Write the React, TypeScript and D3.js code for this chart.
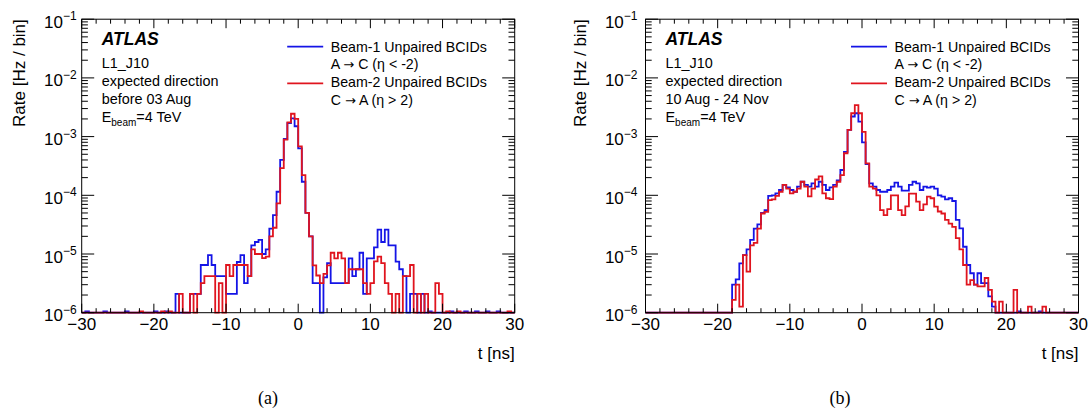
import React from 'react';
import * as d3 from 'd3';

// ---------- data (bins of 0.5 ns from -30 to 30 ns; rate in Hz / bin, 0 = empty bin) ----------
const T_MIN = -30;
const T_MAX = 30;
const BIN_W = 0.5;
const binEdges = d3.range(0, 121).map((i) => T_MIN + i * BIN_W);

// (a) before 03 Aug
const aBeam1 = [
  0, 1.05e-6, 0, 0, 0, 0, 1.05e-6, 0, 0, 0,
  0, 0, 1.05e-6, 0, 0, 0, 0, 0, 0, 0,
  1.05e-6, 0, 0, 1.05e-6, 0, 0, 2.1e-6, 0, 0, 0,
  2.1e-6, 2.1e-6, 2.1e-6, 6.5e-6, 6.5e-6, 9.6e-6, 6.5e-6, 4.2e-6, 4.2e-6, 4.2e-6,
  2.1e-6, 2.1e-6, 2.1e-6, 7.3e-6, 9.6e-6, 3.2e-6, 4.2e-6, 1.4e-5, 1.6e-5, 1.74e-5,
  1.0e-5, 1.2e-5, 2.7e-5, 4.6e-5, 1.15e-4, 4.0e-4, 9.1e-4, 1.7e-3, 2.05e-3, 1.5e-3,
  6.3e-4, 1.7e-4, 5.0e-5, 2.0e-5, 3.2e-6, 3.2e-6, 0, 4.0e-6, 7.0e-6, 3.2e-6,
  3.2e-6, 3.2e-6, 3.2e-6, 3.2e-6, 8.4e-6, 4.2e-6, 5.5e-6, 1.05e-5, 2.1e-6, 8.4e-6,
  8.4e-6, 1.3e-5, 2.6e-5, 1.6e-5, 2.6e-5, 1.4e-5, 1.4e-5, 7.4e-6, 5.5e-6, 4.2e-6,
  0, 2.1e-6, 2.1e-6, 0, 2.1e-6, 0, 1.05e-6, 0, 0, 0,
  0, 0, 1.05e-6, 0, 0, 0, 1.05e-6, 0, 0, 1.05e-6,
  0, 0, 1.05e-6, 0, 0, 1.05e-6, 0, 0, 0, 0,
];
const aBeam2 = [
  0, 0, 0, 0, 0, 0, 0, 0, 0, 0,
  0, 0, 0, 0, 0, 0, 1.05e-6, 0, 0, 0,
  0, 0, 1.05e-6, 0, 1.05e-6, 0, 0, 2.1e-6, 0, 0,
  2.1e-6, 0, 2.1e-6, 3.2e-6, 4.2e-6, 4.2e-6, 4.2e-6, 0, 3.2e-6, 0,
  6.5e-6, 4.2e-6, 6.5e-6, 6.5e-6, 6.5e-6, 6.5e-6, 4.2e-6, 1.2e-5, 1.0e-5, 1.0e-5,
  8.5e-6, 9.0e-6, 2.0e-5, 2.8e-5, 7.3e-5, 2.9e-4, 8.9e-4, 1.75e-3, 2.45e-3, 2.0e-3,
  6.8e-4, 2.2e-4, 5.0e-5, 2.0e-5, 6.4e-6, 4.3e-6, 3.2e-6, 4.6e-6, 6.4e-6, 1.05e-5,
  8.4e-6, 1.05e-5, 8.4e-6, 3.2e-6, 5.5e-6, 5.5e-6, 5.5e-6, 5.5e-6, 3.2e-6, 2.1e-6,
  3.2e-6, 7.5e-6, 9.0e-6, 7.0e-6, 3.2e-6, 2.1e-6, 0, 2.1e-6, 0, 4.2e-6,
  4.2e-6, 6.5e-6, 0, 2.1e-6, 0, 2.1e-6, 0, 0, 3.2e-6, 2.1e-6,
  0, 1.05e-6, 0, 0, 1.05e-6, 0, 0, 0, 0, 0,
  0, 0, 0, 0, 0, 0, 0, 0, 1.05e-6, 0,
];

// (b) 10 Aug - 24 Nov
const bBeam1 = [
  0, 0, 0, 0, 0, 0, 0, 0, 0, 0,
  0, 0, 0, 0, 0, 0, 0, 0, 0, 0,
  0, 0, 0, 0, 3.0e-6, 3.7e-6, 6.9e-6, 9.6e-6, 1.2e-5, 1.74e-5,
  2.7e-5, 3.2e-5, 5.0e-5, 5.6e-5, 9.8e-5, 1.0e-4, 1.08e-4, 1.23e-4, 1.5e-4, 1.37e-4,
  1.23e-4, 1.15e-4, 1.4e-4, 1.7e-4, 1.5e-4, 1.4e-4, 1.6e-4, 1.4e-4, 1.7e-4, 1.5e-4,
  1.23e-4, 1.37e-4, 1.5e-4, 1.8e-4, 2.7e-4, 5.5e-4, 1.3e-3, 2.2e-3, 2.5e-3, 1.8e-3,
  8.0e-4, 3.4e-4, 1.6e-4, 1.4e-4, 1.23e-4, 1.15e-4, 1.15e-4, 1.23e-4, 1.4e-4, 1.65e-4,
  1.4e-4, 1.2e-4, 1.2e-4, 1.5e-4, 1.7e-4, 1.6e-4, 1.23e-4, 1.4e-4, 1.35e-4, 1.4e-4,
  1.3e-4, 1.0e-4, 9.5e-5, 8.5e-5, 8.9e-5, 8.0e-5, 3.8e-5, 2.74e-5, 1.33e-5, 6.5e-6,
  4.7e-6, 3.0e-6, 4.7e-6, 3.2e-6, 3.2e-6, 1.9e-6, 1.27e-6, 0, 0, 0,
  0, 0, 0, 1.05e-6, 0, 0, 0, 0, 0, 1.05e-6,
  0, 0, 0, 0, 0, 0, 0, 0, 0, 0,
];
const bBeam2 = [
  0, 0, 0, 0, 0, 0, 0, 0, 0, 0,
  0, 0, 0, 0, 0, 0, 0, 0, 0, 0,
  0, 0, 0, 0, 1.65e-6, 3.0e-6, 1.27e-6, 9.6e-6, 5.0e-6, 1.4e-5,
  1.55e-5, 2.7e-5, 4.9e-5, 5.2e-5, 8.3e-5, 8.5e-5, 9.8e-5, 1.15e-4, 1.5e-4, 1.3e-4,
  1.08e-4, 1.15e-4, 1.3e-4, 1.7e-4, 1.4e-4, 9.6e-5, 1.3e-4, 1.86e-4, 2.1e-4, 1.08e-4,
  8.9e-5, 8.6e-5, 1.4e-4, 1.7e-4, 2.2e-4, 5.2e-4, 1.3e-3, 2.5e-3, 3.45e-3, 2.5e-3,
  1.2e-3, 3.5e-4, 1.4e-4, 1.3e-4, 1.0e-4, 5.6e-5, 4.6e-5, 5.8e-5, 1.0e-4, 1.0e-4,
  5.6e-5, 4.6e-5, 6.5e-5, 1.07e-4, 1.07e-4, 7.8e-5, 5.6e-5, 7.0e-5, 9.5e-5, 8.9e-5,
  6.4e-5, 5.3e-5, 4.9e-5, 3.8e-5, 3.3e-5, 2.9e-5, 1.86e-5, 1.2e-5, 6.5e-6, 3.0e-6,
  3.6e-6, 3.0e-6, 2.8e-6, 2.8e-6, 3.9e-6, 2.44e-6, 1.54e-6, 0, 1.54e-6, 0,
  0, 0, 2.44e-6, 0, 0, 0, 1.27e-6, 0, 0, 0,
  1.27e-6, 0, 0, 0, 0, 0, 0, 0, 0, 0,
];

const xMajorTicks = [-30, -20, -10, 0, 10, 20, 30];
const xMinorTicks = d3.range(-30, 31, 2).filter((v) => v % 10 !== 0);
const yDecadeExps = [-6, -5, -4, -3, -2, -1];
const yMinorTicks = d3.range(-6, -1).flatMap((e) => d3.range(2, 10).map((m) => m * Math.pow(10, e)));

// legend entries: [before arrow, arrow, after arrow]
const legendLabels: string[][] = [
  ['Beam-1 Unpaired BCIDs'],
  ['A ', '\u2192', ' C (\u03b7 < -2)'],
  ['Beam-2 Unpaired BCIDs'],
  ['C ', '\u2192', ' A (\u03b7 > 2)'],
];
const infoA = ['L1_J10', 'expected direction', 'before 03 Aug'];
const infoB = ['L1_J10', 'expected direction', '10 Aug - 24 Nov'];

const BLUE = '#1414e6';
const RED = '#e0141e';
const FONT = '"Liberation Sans", Arial, Helvetica, sans-serif';

type PanelProps = {
  x0: number;
  beam1: number[];
  beam2: number[];
  info: string[];
  caption: string;
  captionX: number;
  labelShift: number;
};

function Panel({ x0, beam1, beam2, info, caption, captionX, labelShift }: PanelProps) {
  const W = 433;
  const top = 19.2;
  const bottom = 312.7;
  const x = d3.scaleLinear().domain([T_MIN, T_MAX]).range([x0, x0 + W]);
  const y = d3.scaleLog().domain([1e-6, 1e-1]).range([bottom, top]);
  const yv = (v: number) => (v > 1e-6 ? y(v) : bottom);

  const stepLine = d3
    .line<[number, number]>()
    .x((d) => x(d[0]))
    .y((d) => yv(d[1]))
    .curve(d3.curveStepAfter);

  const makePath = (vals: number[]) => {
    const pts: [number, number][] = vals.map((v, i) => [binEdges[i], v]);
    pts.push([binEdges[vals.length], vals[vals.length - 1]]);
    return stepLine(pts) || '';
  };

  const xMajLen = 9;
  const xMinLen = 4.5;
  const yMajLen = 12.5;
  const yMinLen = 6.2;
  const clipId = `clip-${x0}`;
  const lx = x0 + 20;
  const legX = x0 + 205.5;

  return (
    <g>
      <defs>
        <clipPath id={clipId}>
          <rect x={x0 - 1} y={top} width={W + 2} height={bottom - top + 1.5} />
        </clipPath>
      </defs>
      {/* histograms */}
      <g clipPath={`url(#${clipId})`}>
        <path d={makePath(beam1)} fill="none" stroke={BLUE} strokeWidth={1.8} />
        <path d={makePath(beam2)} fill="none" stroke={RED} strokeWidth={1.8} />
      </g>
      {/* frame */}
      <rect x={x0} y={top} width={W} height={bottom - top} fill="none" stroke="#000" strokeWidth={1} />
      {/* x ticks */}
      {xMajorTicks.map((t) => (
        <g key={`xM${t}`}>
          <line x1={x(t)} x2={x(t)} y1={bottom} y2={bottom - xMajLen} stroke="#000" />
          <line x1={x(t)} x2={x(t)} y1={top} y2={top + xMajLen} stroke="#000" />
        </g>
      ))}
      {xMinorTicks.map((t) => (
        <g key={`xm${t}`}>
          <line x1={x(t)} x2={x(t)} y1={bottom} y2={bottom - xMinLen} stroke="#000" />
          <line x1={x(t)} x2={x(t)} y1={top} y2={top + xMinLen} stroke="#000" />
        </g>
      ))}
      {/* y ticks */}
      {yDecadeExps.map((e) => {
        const yy = y(Math.pow(10, e));
        return (
          <g key={`yM${e}`}>
            <line x1={x0} x2={x0 + yMajLen} y1={yy} y2={yy} stroke="#000" />
            <line x1={x0 + W} x2={x0 + W - yMajLen} y1={yy} y2={yy} stroke="#000" />
          </g>
        );
      })}
      {yMinorTicks.map((v, i) => {
        const yy = y(v);
        return (
          <g key={`ym${i}`}>
            <line x1={x0} x2={x0 + yMinLen} y1={yy} y2={yy} stroke="#000" />
            <line x1={x0 + W} x2={x0 + W - yMinLen} y1={yy} y2={yy} stroke="#000" />
          </g>
        );
      })}
      {/* x tick labels */}
      {xMajorTicks.map((t) => (
        <text key={`xl${t}`} x={x(t)} y={330} textAnchor="middle" fontFamily={FONT} fontSize={17}>
          {t < 0 ? `\u2212${Math.abs(t)}` : `${t}`}
        </text>
      ))}
      {/* y tick labels */}
      {yDecadeExps.map((e) => (
        <text key={`yl${e}`} x={x0 - 5 + labelShift} y={y(Math.pow(10, e)) + 8.5} textAnchor="end" fontFamily={FONT} fontSize={17}>
          10
          <tspan dy={-7.5} fontSize={12}>{`\u2212${Math.abs(e)}`}</tspan>
        </text>
      ))}
      {/* axis titles */}
      <text
        transform={`translate(${x0 - 57 + labelShift},${top}) rotate(-90)`}
        textAnchor="end"
        fontFamily={FONT}
        fontSize={17}
      >
        Rate [Hz / bin]
      </text>
      <text x={x0 + W} y={359} textAnchor="end" fontFamily={FONT} fontSize={17}>
        t [ns]
      </text>
      {/* ATLAS label and info */}
      <text x={lx} y={45.3} fontFamily={FONT} fontSize={17.5} fontWeight="bold" fontStyle="italic">
        ATLAS
      </text>
      {info.map((s, i) => (
        <text key={`inf${i}`} x={lx} y={68.3 + i * 17.9} fontFamily={FONT} fontSize={14.4}>
          {s}
        </text>
      ))}
      <text x={lx} y={68.3 + 3 * 17.9} fontFamily={FONT} fontSize={14.4}>
        E
        <tspan dy={3.5} fontSize={10}>beam</tspan>
        <tspan dy={-3.5}>=4 TeV</tspan>
      </text>
      {/* legend */}
      <line x1={legX} x2={legX + 36} y1={46.7} y2={46.7} stroke={BLUE} strokeWidth={1.8} />
      <line x1={legX} x2={legX + 36} y1={83.3} y2={83.3} stroke={RED} strokeWidth={1.8} />
      {legendLabels.map((parts, i) => (
        <text key={`lg${i}`} x={legX + 43.5} y={51.6 + i * 17.8} fontFamily={FONT} fontSize={14.2}>
          {parts.length === 1 ? (
            parts[0]
          ) : (
            <>
              <tspan>{parts[0]}</tspan>
              <tspan fontFamily='"DejaVu Sans", sans-serif' fontSize={13}>{parts[1]}</tspan>
              <tspan>{parts[2]}</tspan>
            </>
          )}
        </text>
      ))}
      {/* caption */}
      <text x={captionX} y={404} textAnchor="middle" fontFamily={'"Liberation Serif", "Times New Roman", serif'} fontSize={18}>
        {caption}
      </text>
    </g>
  );
}

export default function App() {
  return (
    <svg
      width={1089}
      height={414}
      viewBox="0 0 1089 414"
      style={{ position: 'absolute', left: 0, top: 0, display: 'block', background: '#fff' }}
    >
      <rect x={0} y={0} width={1089} height={414} fill="#fff" />
      <Panel x0={81.7} beam1={aBeam1} beam2={aBeam2} info={infoA} caption="(a)" captionX={268} labelShift={0} />
      <Panel x0={645.5} beam1={bBeam1} beam2={bBeam2} info={infoB} caption="(b)" captionX={840} labelShift={-3} />
    </svg>
  );
}
